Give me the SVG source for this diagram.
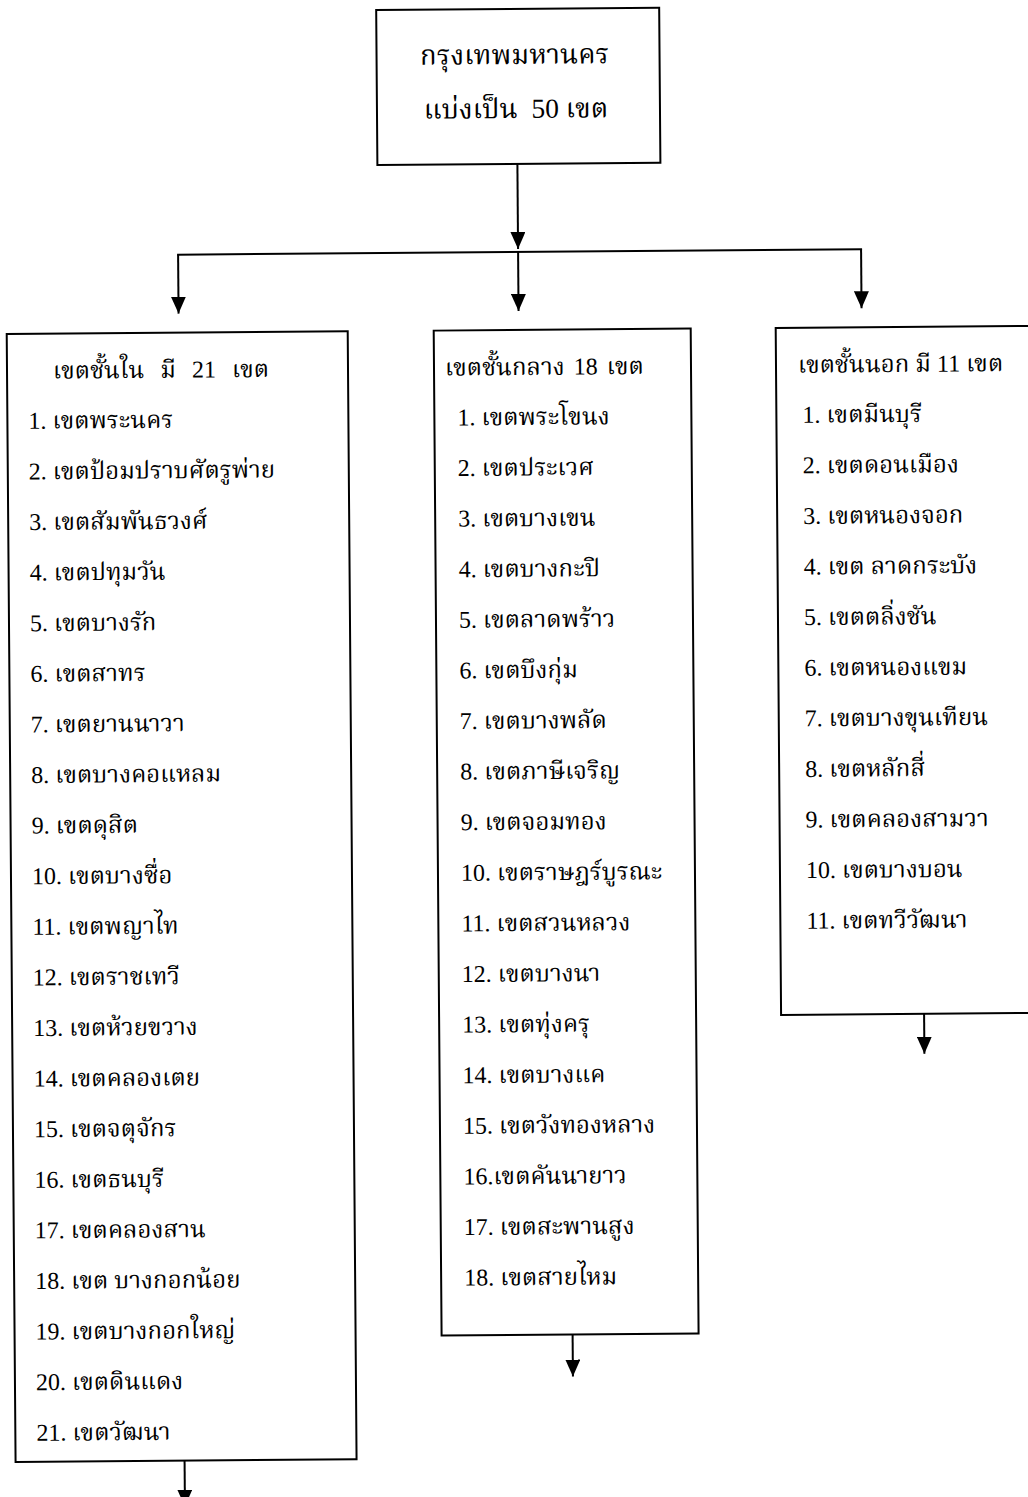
<svg xmlns="http://www.w3.org/2000/svg" width="1028" height="1497" viewBox="0 0 1028 1497">
<style>
.box{fill:none;stroke:#000;stroke-width:2}
.ln{fill:none;stroke:#000;stroke-width:2}
.t{font-family:"Liberation Serif","Noto Serif Thai","Noto Sans Thai",serif;font-size:24px;fill:#000}
.big{font-size:27.5px;white-space:pre}
.c{text-anchor:middle}
</style>
<defs>
<marker id="ah" markerUnits="userSpaceOnUse" markerWidth="17" markerHeight="15" refX="17" refY="7.5" orient="auto" viewBox="0 0 17 15">
<path d="M0,0 L17,7.5 L0,15 z" fill="#000"/>
</marker>
</defs>
<rect width="1028" height="1497" fill="#fff"/>
<g transform="rotate(-0.45 514 750)">
<g id="connectors">
<line class="ln" x1="522" y1="164" x2="522" y2="249" marker-end="url(#ah)"/>
<line class="ln" x1="181" y1="252" x2="866" y2="252"/>
<line class="ln" x1="182" y1="252" x2="182" y2="311" marker-end="url(#ah)"/>
<line class="ln" x1="522" y1="252" x2="522" y2="311" marker-end="url(#ah)"/>
<line class="ln" x1="865" y1="252" x2="865" y2="311" marker-end="url(#ah)"/>
<line class="ln" x1="179" y1="1458" x2="179" y2="1504" marker-end="url(#ah)"/>
<line class="ln" x1="568" y1="1335" x2="568" y2="1377" marker-end="url(#ah)"/>
<line class="ln" x1="922" y1="1017" x2="922" y2="1057" marker-end="url(#ah)"/>
</g>
<g id="root">
<rect class="box" x="382" y="9" width="283" height="155"/>
<text class="t big c" x="520" y="64">กรุงเทพมหานคร</text>
<text class="t big c" x="521" y="118" xml:space="preserve">แบ่งเป็น  50 เขต</text>
</g>
<g id="inner">
<rect class="box" x="10" y="330" width="341" height="1128"/>
<text class="t" x="56" y="375" style="word-spacing:10px">เขตชั้นใน มี 21 เขต</text>
<text class="t" x="31" y="425">1. เขตพระนคร</text>
<text class="t" x="31" y="475.6">2. เขตป้อมปราบศัตรูพ่าย</text>
<text class="t" x="31" y="526.2">3. เขตสัมพันธวงศ์</text>
<text class="t" x="31" y="576.8">4. เขตปทุมวัน</text>
<text class="t" x="31" y="627.4">5. เขตบางรัก</text>
<text class="t" x="31" y="678">6. เขตสาทร</text>
<text class="t" x="31" y="728.6">7. เขตยานนาวา</text>
<text class="t" x="31" y="779.2">8. เขตบางคอแหลม</text>
<text class="t" x="31" y="829.8">9. เขตดุสิต</text>
<text class="t" x="31" y="880.4">10. เขตบางซื่อ</text>
<text class="t" x="31" y="931">11. เขตพญาไท</text>
<text class="t" x="31" y="981.6">12. เขตราชเทวี</text>
<text class="t" x="31" y="1032.2">13. เขตห้วยขวาง</text>
<text class="t" x="31" y="1082.8">14. เขตคลองเตย</text>
<text class="t" x="31" y="1133.4">15. เขตจตุจักร</text>
<text class="t" x="31" y="1184">16. เขตธนบุรี</text>
<text class="t" x="31" y="1234.6">17. เขตคลองสาน</text>
<text class="t" x="31" y="1285.2">18. เขต บางกอกน้อย</text>
<text class="t" x="31" y="1335.8">19. เขตบางกอกใหญ่</text>
<text class="t" x="31" y="1386.4">20. เขตดินแดง</text>
<text class="t" x="31" y="1437">21. เขตวัฒนา</text>
</g>
<g id="middle">
<rect class="box" x="437" y="330" width="257" height="1005"/>
<text class="t" x="448" y="375" style="word-spacing:3px">เขตชั้นกลาง 18 เขต</text>
<text class="t" x="460" y="425">1. เขตพระโขนง</text>
<text class="t" x="460" y="475.6">2. เขตประเวศ</text>
<text class="t" x="460" y="526.2">3. เขตบางเขน</text>
<text class="t" x="460" y="576.8">4. เขตบางกะปิ</text>
<text class="t" x="460" y="627.4">5. เขตลาดพร้าว</text>
<text class="t" x="460" y="678">6. เขตบึงกุ่ม</text>
<text class="t" x="460" y="728.6">7. เขตบางพลัด</text>
<text class="t" x="460" y="779.2">8. เขตภาษีเจริญ</text>
<text class="t" x="460" y="829.8">9. เขตจอมทอง</text>
<text class="t" x="460" y="880.4">10. เขตราษฎร์บูรณะ</text>
<text class="t" x="460" y="931">11. เขตสวนหลวง</text>
<text class="t" x="460" y="981.6">12. เขตบางนา</text>
<text class="t" x="460" y="1032.2">13. เขตทุ่งครุ</text>
<text class="t" x="460" y="1082.8">14. เขตบางแค</text>
<text class="t" x="460" y="1133.4">15. เขตวังทองหลาง</text>
<text class="t" x="460" y="1184">16.เขตคันนายาว</text>
<text class="t" x="460" y="1234.6">17. เขตสะพานสูง</text>
<text class="t" x="460" y="1285.2">18. เขตสายไหม</text>
</g>
<g id="outer">
<rect class="box" x="779" y="330" width="320" height="687"/>
<text class="t" x="801" y="375">เขตชั้นนอก มี 11 เขต</text>
<text class="t" x="805" y="425">1. เขตมีนบุรี</text>
<text class="t" x="805" y="475.6">2. เขตดอนเมือง</text>
<text class="t" x="805" y="526.2">3. เขตหนองจอก</text>
<text class="t" x="805" y="576.8">4. เขต ลาดกระบัง</text>
<text class="t" x="805" y="627.4">5. เขตตลิ่งชัน</text>
<text class="t" x="805" y="678">6. เขตหนองแขม</text>
<text class="t" x="805" y="728.6">7. เขตบางขุนเทียน</text>
<text class="t" x="805" y="779.2">8. เขตหลักสี่</text>
<text class="t" x="805" y="829.8">9. เขตคลองสามวา</text>
<text class="t" x="805" y="880.4">10. เขตบางบอน</text>
<text class="t" x="805" y="931">11. เขตทวีวัฒนา</text>
</g>
</g>
</svg>
